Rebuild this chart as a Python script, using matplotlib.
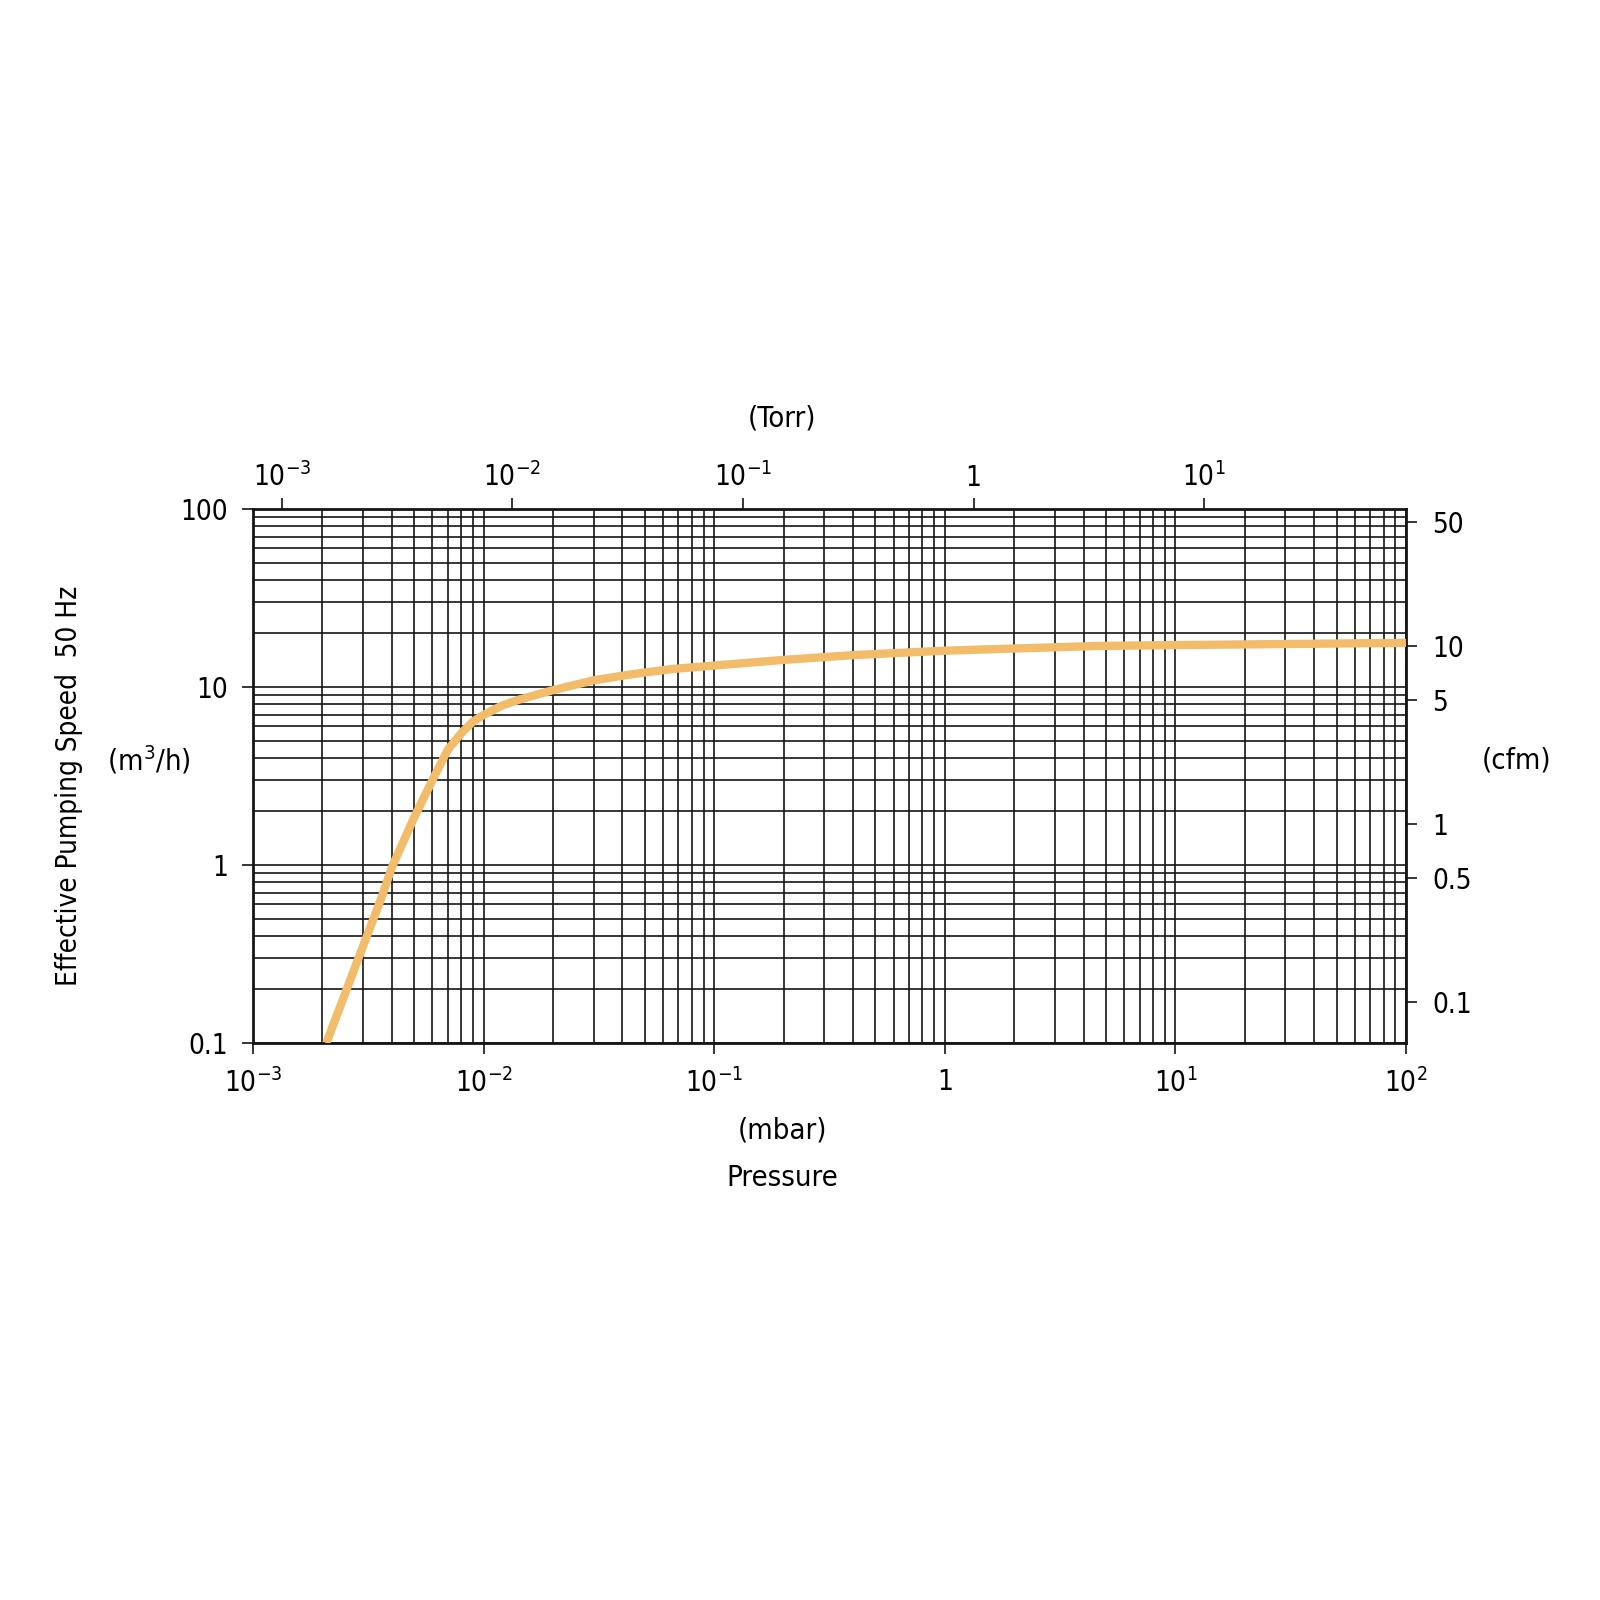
import matplotlib
matplotlib.use("Agg")
import matplotlib.pyplot as plt
from matplotlib.ticker import FixedLocator, FixedFormatter, NullLocator, LogLocator

plt.rcParams['font.family'] = ['DejaVu Sans']
plt.rcParams['font.stretch'] = 'condensed'
plt.rcParams['mathtext.fontset'] = 'custom'
plt.rcParams['mathtext.rm'] = 'DejaVu Sans:stretch=condensed'
plt.rcParams['mathtext.default'] = 'rm'

# Kurve: Druck (mbar) und effektives Saugvermoegen (m3/h)
pressure_mbar = [2.08e-3, 3.05e-3, 3.63e-3, 4.0e-3, 5.0e-3, 6.0e-3, 7.0e-3, 8.0e-3, 9.0e-3,
                 1.0e-2, 1.21e-2, 1.43e-2, 2.0e-2, 3.0e-2, 4.4e-2, 6.5e-2, 0.1, 0.2, 0.4,
                 1.0, 4.6, 10, 100]
speed_m3h = [0.1, 0.37, 0.67, 0.97, 1.85, 3.0, 4.45, 5.5, 6.4,
             6.97, 7.9, 8.5, 9.6, 10.9, 11.8, 12.6, 13.2, 14.2, 15.1,
             16.0, 17.0, 17.2, 17.7]

# Achsen
x_ticks = [1e-3, 1e-2, 1e-1, 1, 10, 100]
x_labels = ['10$^{-3}$', '10$^{-2}$', '10$^{-1}$', '1', '10$^{1}$', '10$^{2}$']
torr_ticks = [1e-3, 1e-2, 1e-1, 1, 10]
torr_labels = ['10$^{-3}$', '10$^{-2}$', '10$^{-1}$', '1', '10$^{1}$']
y_ticks = [0.1, 1, 10, 100]
y_labels = ['0.1', '1', '10', '100']
cfm_ticks = [0.1, 0.5, 1, 5, 10, 50]
cfm_labels = ['0.1', '0.5', '1', '5', '10', '50']

MBAR_TO_TORR = 0.750062
M3H_TO_CFM = 0.588578

fs = 20
fig = plt.figure(figsize=(16, 16), dpi=100)
ax = fig.add_axes([253 / 1600, 1 - 1043 / 1600, (1406 - 253) / 1600, (1043 - 509) / 1600])

ax.plot(pressure_mbar, speed_m3h, color='#F2BC6A', lw=6, solid_capstyle='butt',
        solid_joinstyle='round', zorder=3)

ax.set_xscale('log')
ax.set_yscale('log')
ax.set_xlim(1e-3, 100)
ax.set_ylim(0.1, 100)

ax.xaxis.set_major_locator(FixedLocator(x_ticks))
ax.xaxis.set_major_formatter(FixedFormatter(x_labels))
ax.yaxis.set_major_locator(FixedLocator(y_ticks))
ax.yaxis.set_major_formatter(FixedFormatter(y_labels))
ax.xaxis.set_minor_locator(LogLocator(base=10, subs=range(2, 10), numticks=20))
ax.yaxis.set_minor_locator(LogLocator(base=10, subs=range(2, 10), numticks=20))

ax.grid(True, which='both', color='#151515', lw=1.2)
ax.tick_params(which='major', direction='out', length=8, width=1.1, labelsize=fs, pad=10,
               top=False, right=False)
ax.tick_params(which='minor', length=0)
for s in ax.spines.values():
    s.set_linewidth(2)
    s.set_color('#151515')

# Torr oben
top = ax.secondary_xaxis('top', functions=(lambda x: x * MBAR_TO_TORR, lambda x: x / MBAR_TO_TORR))
top.xaxis.set_major_locator(FixedLocator(torr_ticks))
top.xaxis.set_major_formatter(FixedFormatter(torr_labels))
top.xaxis.set_minor_locator(NullLocator())
top.tick_params(direction='out', length=8, width=1.1, labelsize=fs, pad=4)
top.spines['top'].set_visible(False)

# cfm rechts
right = ax.secondary_yaxis('right', functions=(lambda y: y * M3H_TO_CFM, lambda y: y / M3H_TO_CFM))
right.yaxis.set_major_locator(FixedLocator(cfm_ticks))
right.yaxis.set_major_formatter(FixedFormatter(cfm_labels))
right.yaxis.set_minor_locator(NullLocator())
right.tick_params(direction='out', length=8, width=1.1, labelsize=fs, pad=11)
right.spines['right'].set_visible(False)

# Beschriftungen
fig.text(782 / 1600, 1 - 418 / 1600, '(Torr)', ha='center', va='center', fontsize=fs + 1)
fig.text(782 / 1600, 1 - 1131 / 1600, '(mbar)', ha='center', va='center', fontsize=fs + 1)
fig.text(782 / 1600, 1 - 1178 / 1600, 'Pressure', ha='center', va='center', fontsize=fs + 1)
fig.text(69 / 1600, 1 - 786 / 1600, 'Effective Pumping Speed  50 Hz', ha='center', va='center',
         rotation=90, fontsize=fs)
fig.text(149 / 1600, 1 - 760 / 1600, '(m$^{3}$/h)', ha='center', va='center', fontsize=fs + 1)
fig.text(1517 / 1600, 1 - 760 / 1600, '(cfm)', ha='center', va='center', fontsize=fs + 1)

fig.savefig('out.png', dpi=100, facecolor='white')
